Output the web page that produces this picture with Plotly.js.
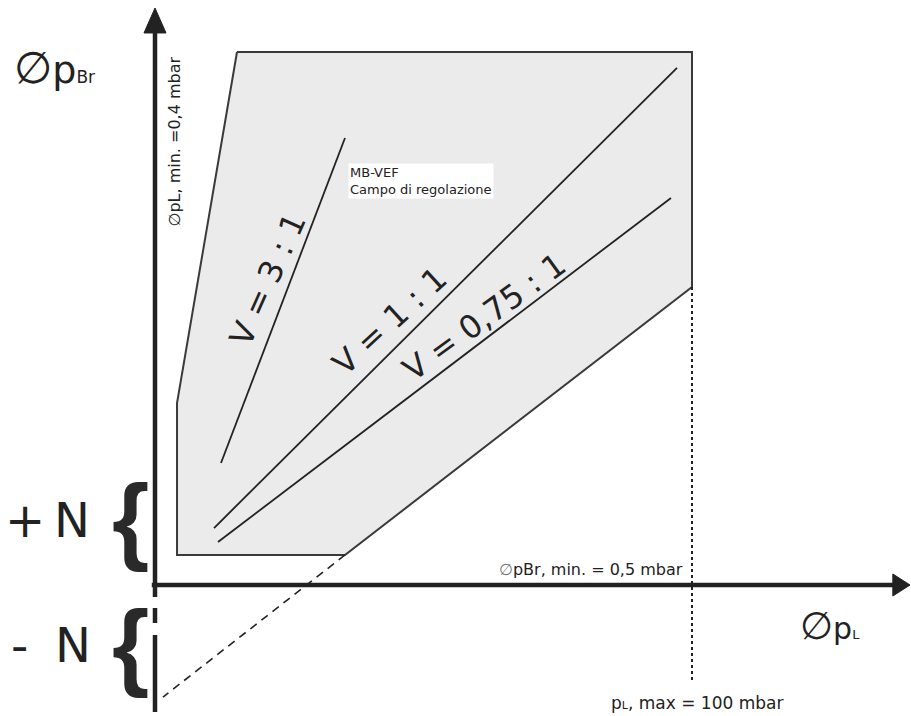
<!DOCTYPE html>
<html>
<head>
<meta charset="utf-8">
<script src="https://cdn.plot.ly/plotly-3.0.1.min.js"></script>
<style>html,body{margin:0;padding:0;background:#fff;}#chart{width:911px;height:716px;}</style>
</head>
<body>
<div id="chart"></div>
<script>
// Diagram units: pL,max = 100 on the horizontal axis, same scale on the vertical axis.
// Control range polygon (MB-VEF Campo di regolazione)
const regionX = [15.27, 100, 100, 35.38, 4.10, 4.10, 15.27];
const regionY = [99.26, 99.26, 55.49, 5.59, 5.59, 33.89, 99.26];
// Ratio lines V = pBr : pL
const ratio3X = [12.29, 35.38];
const ratio3Y = [22.72, 83.24];
const ratio1X = [10.99, 97.21];
const ratio1Y = [10.61, 96.28];
const ratio075X = [11.73, 96.09];
const ratio075Y = [8.01, 72.07];
// Extension of the lower boundary into the -N zone
const extX = [35.38, 1.49];
const extY = [5.59, -20.86];
// pL,max marker
const maxX = [100, 100];
const maxY = [55.49, -18.06];
// Axes
const yAxisX = [0, 0, null, 0, 0, null, 0, 0];
const yAxisY = [102.8, -2.23, null, -4.28, -7.08, null, -9.31, -23.65];
const yArrowX = [-2.05, 2.05, 0, -2.05];
const yArrowY = [102.8, 102.8, 107.45, 102.8];
const xAxisX = [-0.6, 137.6];
const xAxisY = [0, 0];
const xArrowX = [137.4, 137.4, 140.6, 137.4];
const xArrowY = [-2.05, 2.05, 0, -2.05];

const FONT = 'DejaVu Sans, sans-serif';
const INK = '#222222';

const traces = [
  {x: regionX, y: regionY, mode: 'lines', fill: 'toself', fillcolor: '#ebebeb',
   line: {color: '#3a3a3a', width: 2}, hoverinfo: 'skip'},
  {x: ratio3X, y: ratio3Y, mode: 'lines', line: {color: INK, width: 1.8}, hoverinfo: 'skip'},
  {x: ratio1X, y: ratio1Y, mode: 'lines', line: {color: INK, width: 1.8}, hoverinfo: 'skip'},
  {x: ratio075X, y: ratio075Y, mode: 'lines', line: {color: INK, width: 1.8}, hoverinfo: 'skip'},
  {x: extX, y: extY, mode: 'lines', line: {color: INK, width: 1.6, dash: '8px,6px'}, hoverinfo: 'skip'},
  {x: maxX, y: maxY, mode: 'lines', line: {color: INK, width: 2, dash: '3px,3px'}, hoverinfo: 'skip'},
  {x: yAxisX, y: yAxisY, mode: 'lines', line: {color: INK, width: 4.5}, connectgaps: false, hoverinfo: 'skip'},
  {x: yArrowX, y: yArrowY, mode: 'lines', fill: 'toself', fillcolor: INK, line: {color: INK, width: 1}, hoverinfo: 'skip'},
  {x: xAxisX, y: xAxisY, mode: 'lines', line: {color: INK, width: 4.5}, hoverinfo: 'skip'},
  {x: xArrowX, y: xArrowY, mode: 'lines', fill: 'toself', fillcolor: INK, line: {color: INK, width: 1}, hoverinfo: 'skip'}
];

function ann(x, y, text, size, opts) {
  return Object.assign({x: x, y: y, xref: 'x', yref: 'y', text: text, showarrow: false,
    font: {family: FONT, size: size, color: INK}}, opts || {});
}

const BRACE_FONT = {family: 'Liberation Sans Narrow, Liberation Sans, sans-serif', size: 96, color: '#2a2a2a'};

const annotations = [
  ann(-26.6, 96.4, '∅<span style="font-size:38px">p</span><span style="font-size:17px">Br</span>', 44, {xanchor: 'left', yanchor: 'middle'}),
  ann(3.63, 82.68, '∅pL, min. =0,4 mbar', 16, {textangle: -90, xanchor: 'center', yanchor: 'middle'}),
  ann(35.94, 75.2, 'MB-VEF<br>Campo di regolazione', 13, {xanchor: 'left', yanchor: 'middle', align: 'left', bgcolor: '#ffffff'}),
  ann(21.04, 57.0, 'V = 3 : 1', 32, {textangle: -66, xanchor: 'center', yanchor: 'middle'}),
  ann(43.7, 49.2, 'V = 1 : 1', 32, {textangle: -42.5, xanchor: 'center', yanchor: 'middle'}),
  ann(61.3, 50.0, 'V = 0,75 : 1', 32, {textangle: -36, xanchor: 'center', yanchor: 'middle'}),
  ann(-24.2, 12.1, '+', 48, {xanchor: 'center', yanchor: 'middle'}),
  ann(-15.5, 12.1, 'N', 48, {xanchor: 'center', yanchor: 'middle'}),
  ann(-25.3, -11.2, '-', 48, {xanchor: 'center', yanchor: 'middle'}),
  ann(-15.3, -11.2, 'N', 48, {xanchor: 'center', yanchor: 'middle'}),
  ann(-4.5, 12.4, '<b>{</b>', 96, {xanchor: 'center', yanchor: 'middle', font: BRACE_FONT}),
  ann(-4.5, -11.0, '<b>{</b>', 96, {xanchor: 'center', yanchor: 'middle', font: BRACE_FONT}),
  ann(98.7, 2.8, '<span style="color:#777">∅</span>pBr, min. = 0,5 mbar', 16, {xanchor: 'right', yanchor: 'middle'}),
  ann(119.7, -7.6, '∅<span style="font-size:30px">p</span><span style="font-size:13px">L</span>', 38, {xanchor: 'left', yanchor: 'middle'}),
  ann(100.84, -21.97, 'p<span style="font-size:11px">L</span>, max = 100 mbar', 17, {xanchor: 'center', yanchor: 'middle'})
];

const layout = {
  width: 911, height: 716,
  margin: {l: 0, r: 0, t: 0, b: 0, pad: 0},
  paper_bgcolor: '#ffffff', plot_bgcolor: '#ffffff',
  showlegend: false,
  xaxis: {range: [-28.864, 140.782], visible: false, fixedrange: true},
  yaxis: {range: [-24.395, 108.939], visible: false, fixedrange: true},
  annotations: annotations
};

Plotly.newPlot('chart', traces, layout, {staticPlot: true, displayModeBar: false});
</script>
</body>
</html>
